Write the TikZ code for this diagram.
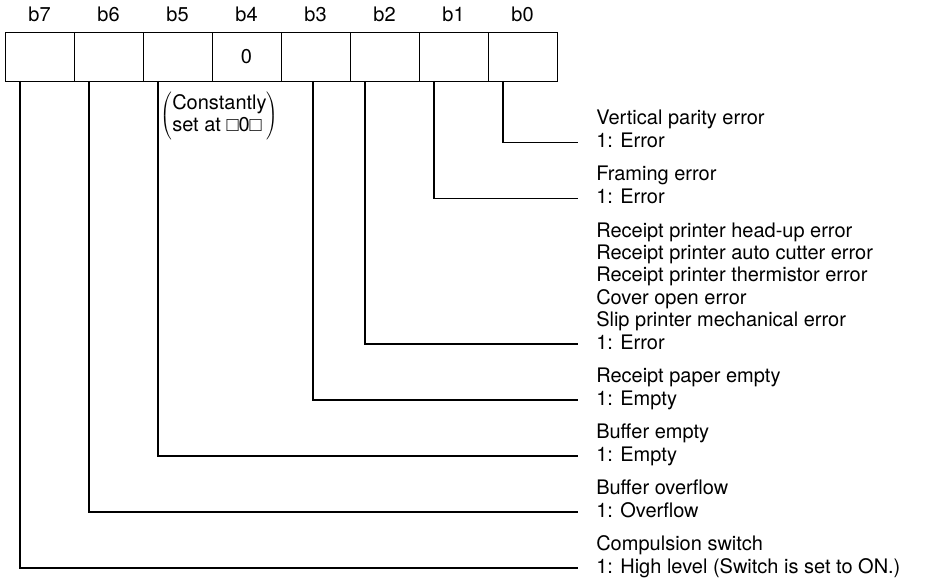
\documentclass[tikz,border=0pt]{standalone}
\usepackage{fontspec}
\setmainfont{TeX Gyre Heros}
\newfontfamily\boxfont{Liberation Sans}
\usetikzlibrary{positioning}
\newcommand{\sqb}{{\boxfont\char"25A1}}
\newcommand{\descfont}{\fontsize{15}{16.8}\selectfont}
\tikzset{
  cell/.style={rectangle,draw,line width=0.6pt,outer sep=0pt,inner sep=0pt,
    minimum width=51.75pt,minimum height=36.75pt,font=\descfont},
  bitlab/.style={anchor=base,inner sep=0pt,font=\descfont},
  desc/.style={anchor=base west,inner sep=0pt,align=left,font=\descfont},
  note/.style={anchor=north west,inner sep=0pt,font=\descfont},
  conn/.style={line width=0.9pt}
}

\begin{document}
\begin{tikzpicture}[x=0.75pt,y=-0.75pt]
\useasboundingbox (0,0) rectangle (932,581);
% ---------- register ----------
\node[cell] (c7) at (39.5,56.5) {};
\node[cell,right=0pt of c7] (c6) {};
\node[cell,right=0pt of c6] (c5) {};
\node[cell,right=0pt of c5] (c4) {0};
\node[cell,right=0pt of c4] (c3) {};
\node[cell,right=0pt of c3] (c2) {};
\node[cell,right=0pt of c2] (c1) {};
\node[cell,right=0pt of c1] (c0) {};
\foreach \i in {7,...,0} {\node[bitlab] (l\i) at ([yshift=7.5pt]c\i.north) {b\i};}
\node[note] (fixed) at ([xshift=13pt,yshift=-8pt]c5.south west)
  {$\left(\begin{tabular}{@{}l@{}}Constantly\\set at \sqb0\sqb\end{tabular}\right)$};
% ---------- descriptions ----------
\node[desc] (t0) at (596,125.0) {Vertical parity error};
\node[desc] (v0) at (596,147.4) {1: Error};
\node[desc] (t1) at (596,181.0) {Framing error};
\node[desc] (v1) at (596,203.4) {1: Error};
\node[desc] (t2) at (596,326.6) {Receipt printer head-up error\\Receipt printer auto cutter error\\
  Receipt printer thermistor error\\Cover open error\\Slip printer mechanical error};
\node[desc] (v2) at (596,349.0) {1: Error};
\node[desc] (t3) at (596,382.6) {Receipt paper empty};
\node[desc] (v3) at (596,405.0) {1: Empty};
\node[desc] (t5) at (596,438.6) {Buffer empty};
\node[desc] (v5) at (596,461.0) {1: Empty};
\node[desc] (t6) at (596,494.6) {Buffer overflow};
\node[desc] (v6) at (596,517.0) {1: Overflow};
\node[desc] (t7) at (596,550.6) {Compulsion switch};
\node[desc] (v7) at (596,573.0) {1: High level (Switch is set to ON.)};
% ---------- connectors ----------
\foreach \i in {0,1,2,5,6,7}
  {\draw[conn] ([xshift=11.25pt]c\i.south west) |- ([xshift=-13.5pt,yshift=3.75pt]v\i.base west);}
\draw[conn] ([xshift=24pt]c3.south west) |- ([xshift=-13.5pt,yshift=3.75pt]v3.base west);
\end{tikzpicture}
\end{document}
